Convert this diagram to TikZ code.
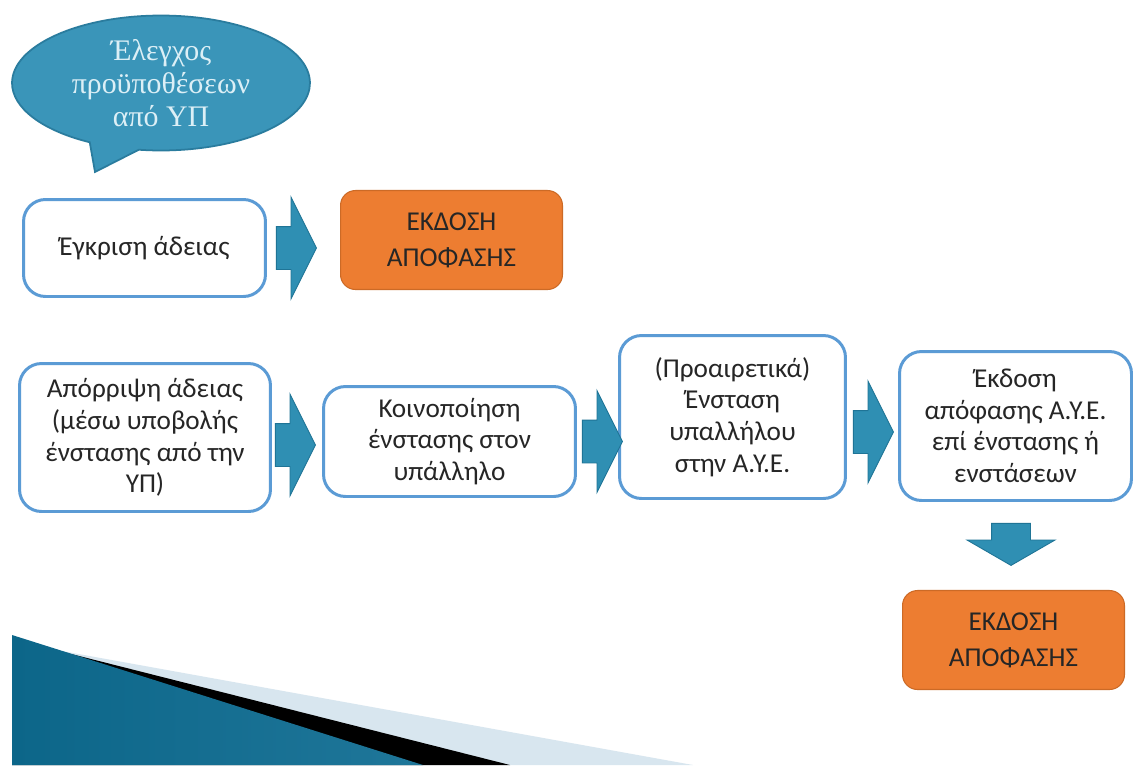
\documentclass[tikz,border=0pt]{standalone}
\usepackage{fontspec}
\setmainfont{Carlito}
\newfontfamily\serifgr{Liberation Serif}
\usetikzlibrary{positioning,calc,shapes.arrows,shapes.callouts}
\definecolor{boxblue}{HTML}{5B9BD5}
\definecolor{arrowblue}{HTML}{2F8FB3}
\definecolor{arrowedge}{HTML}{1F7496}
\definecolor{bubble}{HTML}{3A95B9}
\definecolor{bubbleedge}{HTML}{2A7C9E}
\definecolor{bubbletext}{HTML}{DCEFF6}
\definecolor{decision}{HTML}{ED7D31}
\definecolor{decisionedge}{HTML}{CC6A26}
\definecolor{paleblue}{HTML}{D8E6EF}
\definecolor{deepblue}{HTML}{0C6689}
\definecolor{lightblue}{HTML}{6AB8DC}
\definecolor{inkgray}{HTML}{262626}

\begin{document}
\begin{tikzpicture}[x=0.02cm, y=-0.02cm,
  stage/.style={draw=boxblue, line width=1.7pt, rounded corners=0.44cm, fill=white, align=center,
    text=inkgray, font=\fontsize{15.5}{18}\selectfont, inner sep=2pt},
  decide/.style={draw=decisionedge, line width=0.6pt, fill=decision, rounded corners=0.3cm, align=center,
    text=inkgray, font=\fontsize{15.5}{20.5}\selectfont, minimum width=4.44cm, minimum height=1.98cm},
  fat/.style={single arrow, draw=arrowedge, fill=arrowblue, line width=0.5pt, inner xsep=0pt, inner ysep=0.42cm,
    minimum height=0.8cm, minimum width=2.02cm, single arrow head extend=0.59cm, single arrow tip angle=127}]
\useasboundingbox (0,0) rectangle (1135,765);
\fill[white] (0,0) rectangle (1135,765);

\fill[paleblue] (12,642) -- (693,765) -- (12,765) -- cycle;
\fill[black] (12,639) -- (510,765) -- (12,765) -- cycle;
\shade[left color=deepblue, middle color=lightblue, right color=deepblue!80!lightblue] (12,635) -- (423,765) -- (12,765) -- cycle;

\node[ellipse callout, draw=bubbleedge, fill=bubble, line width=1pt, minimum width=5.96cm, minimum height=2.7cm,
  inner sep=0pt, callout absolute pointer={(95,172)}, callout pointer arc=20, align=center, text=bubbletext,
  font=\serifgr\fontsize{17}{18.6}\selectfont] (check) at (161,83) {Έλεγχος\\προϋποθέσεων\\από ΥΠ};

\node[stage, minimum width=4.84cm, minimum height=1.94cm] (grant) at (144.5,248) {Έγκριση άδειας};
\node[decide] (issue1) at (451.5,240) {ΕΚΔΟΣΗ\\ΑΠΟΦΑΣΗΣ};
\node[stage, minimum width=5.02cm, minimum height=2.96cm] (reject) at (145,437.5) {Απόρριψη άδειας\\(μέσω υποβολής\\ένστασης από την\\ΥΠ)};
\node[stage, minimum width=5.04cm, minimum height=2.2cm] (notify) at (449.5,441.5) {Κοινοποίηση\\ένστασης στον\\υπάλληλο};
\node[stage, minimum width=4.52cm, minimum height=3.26cm] (appeal) at (732.5,417) {(Προαιρετικά)\\Ένσταση\\υπαλλήλου\\στην Α.Υ.Ε.};
\node[stage, minimum width=4.64cm, minimum height=2.98cm] (ruling) at (1015.5,426) {Έκδοση\\απόφασης Α.Υ.Ε.\\επί ένστασης ή\\ενστάσεων};
\node[decide] (issue2) at (1013.5,640) {ΕΚΔΟΣΗ\\ΑΠΟΦΑΣΗΣ};

\node[fat, right=0.18cm of grant] (step1) {};
\node[fat, right=0.06cm of reject, yshift=-0.15cm] (step2) {};
\node[fat, right=0.1cm of notify] (step3) {};
\node[fat, right=0.12cm of appeal, yshift=-0.3cm] (step4) {};
\node[fat, shape border rotate=270, anchor=tail, minimum height=0.84cm, minimum width=1.74cm, inner xsep=0.38cm,
  inner ysep=0pt, single arrow head extend=0.49cm, single arrow tip angle=120] (step5) at ([xshift=-0.09cm, yshift=-0.42cm]ruling.south) {};
\end{tikzpicture}
\end{document}
